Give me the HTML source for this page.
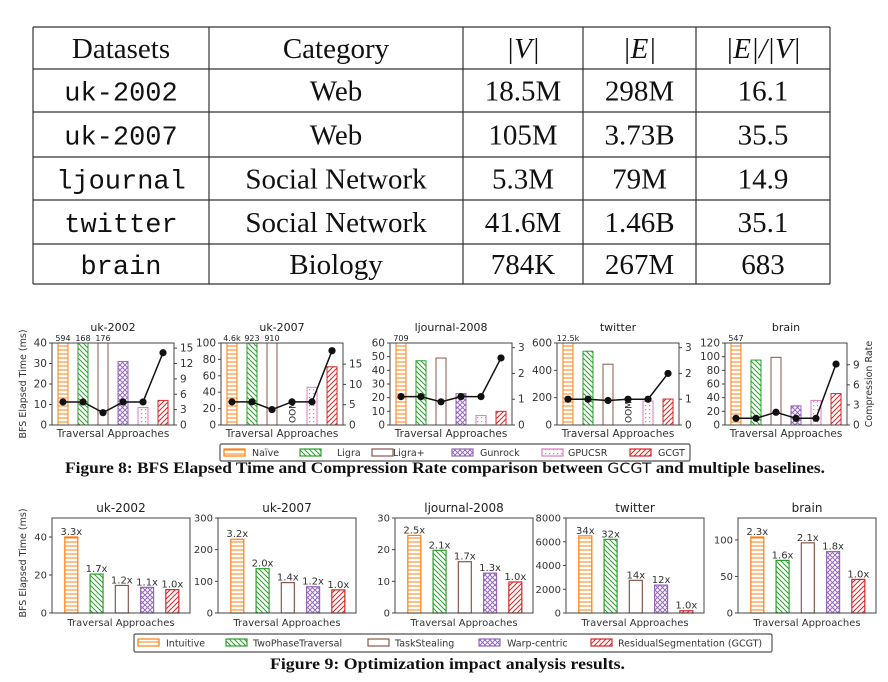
<!DOCTYPE html>
<html><head><meta charset="utf-8">
<style>
html,body{margin:0;padding:0;background:#fff;}
svg{display:block;}
</style></head>
<body>
<svg id="page" width="888" height="682" viewBox="0 0 888 682" xmlns="http://www.w3.org/2000/svg">
<defs>
<pattern id="p-horiz" patternUnits="userSpaceOnUse" width="6" height="4"><rect width="6" height="4" fill="#fff"/><line x1="0" y1="2" x2="6" y2="2" stroke="#ff7f0e" stroke-width="1"/></pattern>
<pattern id="p-back" patternUnits="userSpaceOnUse" width="5" height="5"><rect width="5" height="5" fill="#fff"/><path d="M-1,-1 L6,6 M-1,4 L1,6 M4,-1 L6,1" stroke="#2ca02c" stroke-width="1"/></pattern>
<pattern id="p-none" patternUnits="userSpaceOnUse" width="4" height="4"><rect width="4" height="4" fill="#fff"/></pattern>
<pattern id="p-cross" patternUnits="userSpaceOnUse" width="5" height="5"><rect width="5" height="5" fill="#fff"/><path d="M-1,-1 L6,6 M-1,6 L6,-1" stroke="#9467bd" stroke-width="1"/></pattern>
<pattern id="p-dots" patternUnits="userSpaceOnUse" width="4" height="4"><rect width="4" height="4" fill="#fff"/><rect x="1" y="1" width="1.2" height="1.2" fill="#e377c2"/></pattern>
<pattern id="p-fwd" patternUnits="userSpaceOnUse" width="5" height="5"><rect width="5" height="5" fill="#fff"/><path d="M-1,6 L6,-1 M-1,1 L1,-1 M4,6 L6,4" stroke="#d62728" stroke-width="1"/></pattern>
</defs>
<g id="table"></g>
<g id="fig8"></g>
<g id="fig9"></g>
</svg>
<script>
// ---------- Table data ----------
const tableHeaders = ['Datasets','Category','|V|','|E|','|E|/|V|'];
const tableDatasets = ['uk-2002','uk-2007','ljournal','twitter','brain'];
const tableCategories = ['Web','Web','Social Network','Social Network','Biology'];
const tableV = ['18.5M','105M','5.3M','41.6M','784K'];
const tableE = ['298M','3.73B','79M','1.46B','267M'];
const tableRatio = ['16.1','35.5','14.9','35.1','683'];

// ---------- Figure 8 data ----------
const fig8Titles = ['uk-2002','uk-2007','ljournal-2008','twitter','brain'];
const fig8Series = ['Naïve','Ligra','Ligra+','Gunrock','GPUCSR','GCGT'];
const fig8YMax = [40,100,60,600,120];
const fig8YTicks = [[0,10,20,30,40],[0,20,40,60,80,100],[0,10,20,30,40,50,60],[0,200,400,600],[0,20,40,60,80,100,120]];
const fig8RMax = [16,20.2,3.18,3.18,12.25];
const fig8RTicks = [[0,3,6,9,12,15],[0,5,10,15],[0,1,2,3],[0,1,2,3],[0,3,6,9]];
const fig8TimesUk2002 = [594,168,176,31,8.5,12];
const fig8TimesUk2007 = [4600,923,910,null,46,71];
const fig8TimesLjournal = [709,47,49,23,7,10];
const fig8TimesTwitter = [12500,540,445,null,175,190];
const fig8TimesBrain = [547,95,99,28,36,46];
const fig8OverLabels = [['594','168','176'],['4.6k','923','910'],['709'],['12.5k'],['547']];
const fig8RateUk2002 = [4.5,4.5,2.4,4.5,4.5,14.1];
const fig8RateUk2007 = [5.7,5.7,3.8,5.7,5.7,18.3];
const fig8RateLjournal = [1.1,1.1,0.9,1.1,1.1,2.6];
const fig8RateTwitter = [1.0,1.0,0.95,1.0,1.0,2.0];
const fig8RateBrain = [1.0,1.0,1.9,1.0,1.0,9.1];

// ---------- Figure 9 data ----------
const fig9Titles = ['uk-2002','uk-2007','ljournal-2008','twitter','brain'];
const fig9Series = ['Intuitive','TwoPhaseTraversal','TaskStealing','Warp-centric','ResidualSegmentation (GCGT)'];
const fig9YMax = [50,300,30,8000,130];
const fig9YTicks = [[0,20,40],[0,100,200,300],[0,10,20,30],[0,2000,4000,6000,8000],[0,50,100]];
const fig9TimesUk2002 = [40,20.5,14.5,13.5,12.3];
const fig9TimesUk2007 = [233,140,96,83,73];
const fig9TimesLjournal = [24.5,19.8,16.2,12.6,9.8];
const fig9TimesTwitter = [6500,6200,2750,2350,190];
const fig9TimesBrain = [104,72,96,84,46];
const fig9SpeedUk2002 = ['3.3x','1.7x','1.2x','1.1x','1.0x'];
const fig9SpeedUk2007 = ['3.2x','2.0x','1.4x','1.2x','1.0x'];
const fig9SpeedLjournal = ['2.5x','2.1x','1.7x','1.3x','1.0x'];
const fig9SpeedTwitter = ['34x','32x','14x','12x','1.0x'];
const fig9SpeedBrain = ['2.3x','1.6x','2.1x','1.8x','1.0x'];

const NS='http://www.w3.org/2000/svg';
function mk(parent, tag, attrs, text){
  const e=document.createElementNS(NS,tag);
  for(const k in attrs) e.setAttribute(k,attrs[k]);
  if(text!==undefined) e.textContent=text;
  parent.appendChild(e); return e;
}
const SANS='"DejaVu Sans","Liberation Sans",sans-serif';
const SERIF='"Liberation Serif",serif';
const MONO='"Liberation Mono","DejaVu Sans Mono",monospace';
const fills=['url(#p-horiz)','url(#p-back)','url(#p-none)','url(#p-cross)','url(#p-dots)','url(#p-fwd)'];
const strokes=['#ff7f0e','#2ca02c','#8c564b','#9467bd','#e377c2','#d62728'];
const fig9Fills=[fills[0],fills[1],fills[2],fills[3],fills[5]];
const fig9Strokes=[strokes[0],strokes[1],strokes[2],strokes[3],strokes[5]];

// ---------- Table ----------
(function(){
  const g=document.getElementById('table');
  const colX=[33,209,463,583,696,830];
  const rowY=[27,69,112,157,200,244,284];
  for(let r=0;r<=6;r++){ const l=mk(g,'line',{x1:33,x2:830,y1:rowY[r],y2:rowY[r],stroke:'#333','stroke-width':1.2});   }
  for(let c=0;c<=5;c++){ const l=mk(g,'line',{x1:colX[c],x2:colX[c],y1:27,y2:284,stroke:'#333','stroke-width':1.2});   }
  const rows=[tableHeaders];
  for(let i=0;i<tableDatasets.length;i++) rows.push([tableDatasets[i],tableCategories[i],tableV[i],tableE[i],tableRatio[i]]);
  rows.forEach((row,r)=>{
    row.forEach((txt,c)=>{
      const cx=(colX[c]+colX[c+1])/2, cy=(rowY[r]+rowY[r+1])/2+10;
      const mono=(r>0&&c===0);
      const t=mk(g,'text',{x:cx,y:cy,'text-anchor':'middle','font-family':mono?MONO:SERIF,'font-size':mono?27:29,fill:'#111','font-style':(r===0&&c>=2)?'italic':'normal'},txt);
      
      
    });
  });
})();

// ---------- Figure 8 ----------
(function(){
  const g=document.getElementById('fig8');
  const lefts=[52,221,390,557,725], W=122, top=343, bot=425;
  const times=[fig8TimesUk2002,fig8TimesUk2007,fig8TimesLjournal,fig8TimesTwitter,fig8TimesBrain];
  const rates=[fig8RateUk2002,fig8RateUk2007,fig8RateLjournal,fig8RateTwitter,fig8RateBrain];
  for(let k=0;k<5;k++){
    const L=lefts[k], cg=mk(g,'g',{});
    
    
    const y=v=>bot-(Math.min(v,fig8YMax[k])/fig8YMax[k])*(bot-top);
    const yr=v=>bot-(v/fig8RMax[k])*(bot-top);
    const xc=i=>L+W*(0.09+i*0.164);
    const tt=mk(cg,'text',{x:L+W/2,y:331,'text-anchor':'middle','font-family':SANS,'font-size':11,fill:'#222'},fig8Titles[k]);
     
    let over=0;
    times[k].forEach((v,i)=>{
      if(v===null){
        const o=mk(cg,'text',{x:0,y:0,'font-family':SANS,'font-size':9,fill:'#222','text-anchor':'start',transform:`translate(${xc(i)+3.5},${bot-2}) rotate(-90)`},'OOM');
         
        return;
      }
      const b=mk(cg,'rect',{x:xc(i)-5,y:y(v),width:10,height:bot-y(v),fill:fills[i],stroke:strokes[i],'stroke-width':1});
      
      
      if(v>fig8YMax[k]){
        const lab=fig8OverLabels[k][over++]||String(v);
        const t=mk(cg,'text',{x:xc(i),y:top-2,'text-anchor':'middle','font-family':SANS,'font-size':8,fill:'#222'},lab);
         
      }
    });
    const pts=rates[k].map((v,i)=>xc(i)+','+yr(v)).join(' ');
    const pl=mk(cg,'polyline',{points:pts,fill:'none',stroke:'#111','stroke-width':1.5});
     
    rates[k].forEach((v,i)=>{ const c=mk(cg,'circle',{cx:xc(i),cy:yr(v),r:3.6,fill:'#111'});   });
    const fr=mk(cg,'rect',{x:L,y:top,width:W,height:bot-top,fill:'none',stroke:'#444','stroke-width':1});
     
    fig8YTicks[k].forEach(v=>{
      const yy=bot-(v/fig8YMax[k])*(bot-top);
      mk(cg,'line',{x1:L-3,x2:L,y1:yy,y2:yy,stroke:'#444'});
      const t=mk(cg,'text',{x:L-5,y:yy+3.5,'text-anchor':'end','font-family':SANS,'font-size':10.5,fill:'#333'},String(v));
       
    });
    fig8RTicks[k].forEach(v=>{
      const yy=yr(v);
      mk(cg,'line',{x1:L+W,x2:L+W+3,y1:yy,y2:yy,stroke:'#444'});
      const t=mk(cg,'text',{x:L+W+6,y:yy+3.5,'text-anchor':'start','font-family':SANS,'font-size':10.5,fill:'#333'},String(v));
       
    });
    const xl=mk(cg,'text',{x:L+W/2,y:437,'text-anchor':'middle','font-family':SANS,'font-size':10.5,fill:'#333'},'Traversal Approaches');
     
  }
  const yl=mk(g,'text',{x:0,y:0,'text-anchor':'middle','font-family':SANS,'font-size':9.5,fill:'#333',transform:'translate(26,384) rotate(-90)'},'BFS Elapsed Time (ms)');
   
  const yr2=mk(g,'text',{x:0,y:0,'text-anchor':'middle','font-family':SANS,'font-size':9.5,fill:'#333',transform:'translate(872,384) rotate(-90)'},'Compression Rate');
   
  const lg=mk(g,'g',{});
   
  mk(lg,'rect',{x:220,y:444,width:470,height:17,fill:'#fff',stroke:'#555','stroke-width':1.2,rx:1.5});
  const sw=[224,300,372,452,542,630], tx=[252,337,393,480,568,658];
  fig8Series.forEach((s,i)=>{
    const r=mk(lg,'rect',{x:sw[i],y:449,width:21,height:7,fill:fills[i],stroke:strokes[i],'stroke-width':1.2});
     
    const t=mk(lg,'text',{x:tx[i],y:456,'font-family':SANS,'font-size':9.5,fill:'#333'},s);
     
  });
  const cap=mk(g,'text',{x:65,y:473,'text-anchor':'start','font-family':SERIF,'font-size':15.5,'font-weight':'bold',fill:'#111',textLength:760,lengthAdjust:'spacingAndGlyphs'});
   
  mk(cap,'tspan',{},'Figure 8: BFS Elapsed Time and Compression Rate comparison between ');
  mk(cap,'tspan',{'font-family':SANS,'font-weight':'normal','font-size':14},'GCGT');
  mk(cap,'tspan',{},' and multiple baselines.');
})();

// ---------- Figure 9 ----------
(function(){
  const g=document.getElementById('fig9');
  const lefts=[52,218,395,566,738], W=138, top=518, bot=613;
  const times=[fig9TimesUk2002,fig9TimesUk2007,fig9TimesLjournal,fig9TimesTwitter,fig9TimesBrain];
  const speeds=[fig9SpeedUk2002,fig9SpeedUk2007,fig9SpeedLjournal,fig9SpeedTwitter,fig9SpeedBrain];
  for(let k=0;k<5;k++){
    const L=lefts[k], cg=mk(g,'g',{});
    
    
    const y=v=>bot-(v/fig9YMax[k])*(bot-top);
    const xc=i=>L+W*(0.14+i*0.183);
    const tt=mk(cg,'text',{x:L+W/2,y:512,'text-anchor':'middle','font-family':SANS,'font-size':12,fill:'#222'},fig9Titles[k]);
     
    times[k].forEach((v,i)=>{
      const b=mk(cg,'rect',{x:xc(i)-6.5,y:y(v),width:13,height:bot-y(v),fill:fig9Fills[i],stroke:fig9Strokes[i],'stroke-width':1.2});
      
      
      const t=mk(cg,'text',{x:xc(i),y:y(v)-2,'text-anchor':'middle','font-family':SANS,'font-size':10,fill:'#333'},speeds[k][i]);
       
    });
    const fr=mk(cg,'rect',{x:L,y:top,width:W,height:bot-top,fill:'none',stroke:'#444','stroke-width':1});
     
    fig9YTicks[k].forEach(v=>{
      const yy=y(v);
      mk(cg,'line',{x1:L-3,x2:L,y1:yy,y2:yy,stroke:'#444'});
      const t=mk(cg,'text',{x:L-5,y:yy+3.5,'text-anchor':'end','font-family':SANS,'font-size':10,fill:'#333'},String(v));
       
    });
    const xl=mk(cg,'text',{x:L+W/2,y:626,'text-anchor':'middle','font-family':SANS,'font-size':10,fill:'#333'},'Traversal Approaches');
     
  }
  const yl=mk(g,'text',{x:0,y:0,'text-anchor':'middle','font-family':SANS,'font-size':9.5,fill:'#333',transform:'translate(26,563) rotate(-90)'},'BFS Elapsed Time (ms)');
   
  const lg=mk(g,'g',{});
   
  mk(lg,'rect',{x:134,y:634,width:638,height:18,fill:'#fff',stroke:'#555','stroke-width':1.2,rx:1.5});
  const sw=[138,226,368,479,591], tx=[166,253,395,507,618];
  fig9Series.forEach((s,i)=>{
    const r=mk(lg,'rect',{x:sw[i],y:639,width:21,height:7,fill:fig9Fills[i],stroke:fig9Strokes[i],'stroke-width':1.2});
     
    const t=mk(lg,'text',{x:tx[i],y:646.5,'font-family':SANS,'font-size':9.5,fill:'#333'},s);
     
  });
  const cap=mk(g,'text',{x:270,y:669,'text-anchor':'start','font-family':SERIF,'font-size':16,'font-weight':'bold',fill:'#111',textLength:355,lengthAdjust:'spacingAndGlyphs'},'Figure 9: Optimization impact analysis results.');
   
})();
</script>
</body></html>
